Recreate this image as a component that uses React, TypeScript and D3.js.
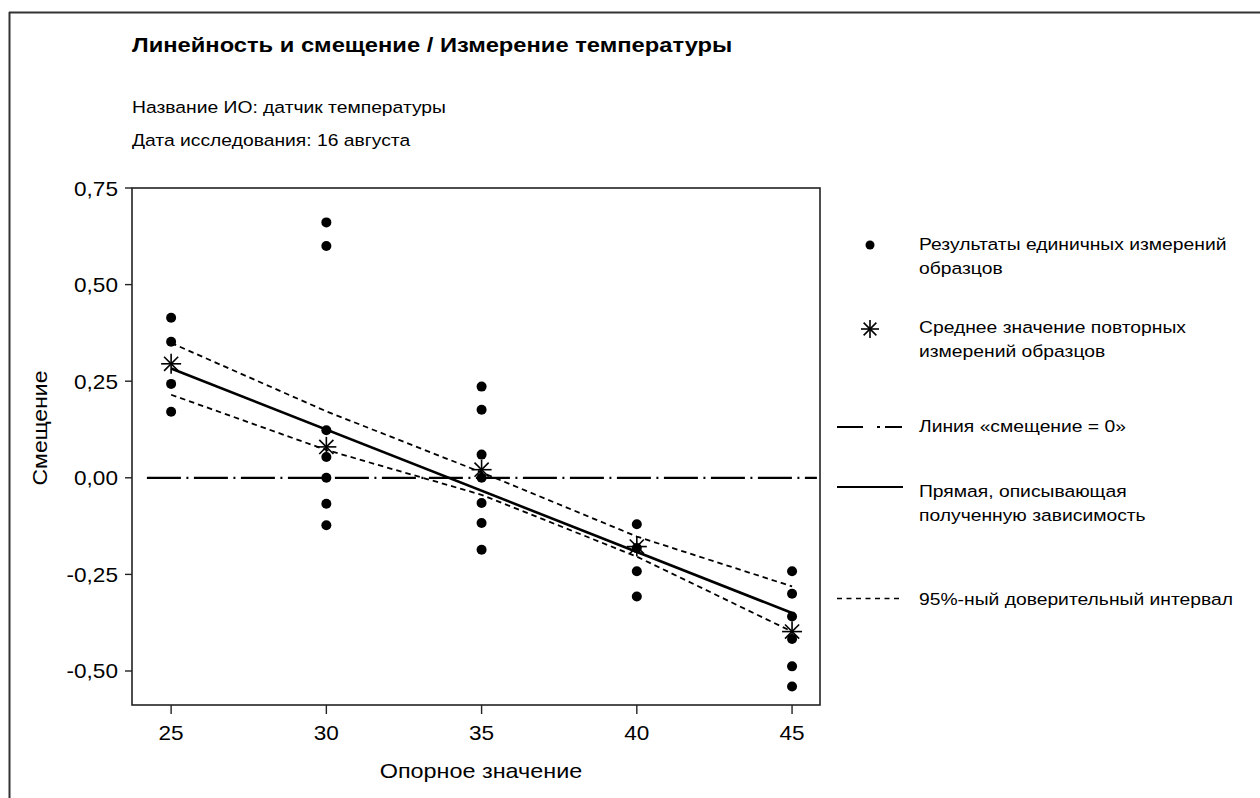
import React from "react";
import * as d3 from "d3";

const referenceValues = [25, 30, 35, 40, 45];
const singles25 = [0.414, 0.352, 0.243, 0.171];
const singles30 = [0.661, 0.6, 0.123, 0.054, 0.0, -0.067, -0.123];
const singles35 = [0.236, 0.176, 0.06, 0.0, -0.065, -0.117, -0.186];
const singles40 = [-0.12, -0.182, -0.242, -0.307];
const singles45 = [-0.242, -0.3, -0.359, -0.417, -0.488, -0.54];
const singleGroups = [singles25, singles30, singles35, singles40, singles45];
const means = [0.295, 0.08, 0.021, -0.178, -0.398];
const fitX = [25, 45];
const fitY = [0.283, -0.35];
const ciUpper = [0.349, 0.172, 0.014, -0.152, -0.281];
const ciLower = [0.215, 0.072, -0.044, -0.204, -0.398];
const zeroLineX = [24.22, 45.8];
const yTicks = [0.75, 0.5, 0.25, 0, -0.25, -0.5];
const xTicks = [25, 30, 35, 40, 45];

const title = "Линейность и смещение / Измерение температуры";
const subtitle1 = "Название ИО: датчик температуры";
const subtitle2 = "Дата исследования: 16 августа";
const xLabel = "Опорное значение";
const yLabel = "Смещение";
const legendItems = [
  ["Результаты единичных измерений", "образцов"],
  ["Среднее значение повторных", "измерений образцов"],
  ["Линия «смещение = 0»"],
  ["Прямая, описывающая", "полученную зависимость"],
  ["95%-ный доверительный интервал"],
];

const FONT = "'Liberation Sans', Arial, sans-serif";

function T({ x, y, size, sx = 1.17, anchor = "start", weight = "normal", rotate = 0, children }: any) {
  return (
    <text
      transform={`translate(${x},${y}) rotate(${rotate}) scale(${sx},1)`}
      fontSize={size}
      fontWeight={weight}
      textAnchor={anchor}
      fill="#000"
    >
      {children}
    </text>
  );
}

function Star({ cx, cy, r, w = 1.6 }: { cx: number; cy: number; r: number; w?: number }) {
  const arms = [0, 45, 90, 135].map((a) => {
    const rad = (a * Math.PI) / 180;
    const dx = Math.cos(rad) * r;
    const dy = Math.sin(rad) * r;
    return <line key={a} x1={cx - dx} y1={cy - dy} x2={cx + dx} y2={cy + dy} stroke="#000" strokeWidth={w} />;
  });
  return <g>{arms}</g>;
}

export default function App() {
  const left = 132, right = 820, top = 188, bottom = 705;
  const x = d3.scaleLinear().domain([23.74, 45.9]).range([left, right]);
  const y = d3.scaleLinear().domain([-0.588, 0.75]).range([bottom, top]);
  const line = d3.line<[number, number]>().x((d) => x(d[0])).y((d) => y(d[1]));
  const fitPts: [number, number][] = fitX.map((v, i) => [v, fitY[i]]);
  const upPts: [number, number][] = referenceValues.map((v, i) => [v, ciUpper[i]]);
  const loPts: [number, number][] = referenceValues.map((v, i) => [v, ciLower[i]]);
  const zeroPts: [number, number][] = zeroLineX.map((v) => [v, 0]);

  const legX = 919;
  const legendY = [250, 333, 432, 497, 605];
  const lineGap = 23.5;

  return (
    <svg width={1260} height={798} style={{ position: "fixed", left: 0, top: 0, background: "#fff" }} fontFamily={FONT}>
      <rect x={0} y={0} width={1260} height={798} fill="#fff" />
      <line x1={9} y1={12.5} x2={1260} y2={12.5} stroke="#333" strokeWidth={2} />
      <line x1={9.5} y1={12} x2={9.5} y2={798} stroke="#333" strokeWidth={2} />

      <T x={132} y={52} size={21} sx={1.13} weight="bold">{title}</T>
      <T x={132} y={113} size={16.5}>{subtitle1}</T>
      <T x={132} y={146} size={16.5}>{subtitle2}</T>

      <rect x={left} y={top} width={right - left} height={bottom - top} fill="none" stroke="#222" strokeWidth={1.6} />
      {yTicks.map((t) => (
        <g key={t}>
          <line x1={left - 7} x2={left} y1={y(t)} y2={y(t)} stroke="#222" strokeWidth={1.4} />
          <T x={left - 14} y={y(t) + 7.5} size={20} sx={1.13} anchor="end">
            {d3.format(".2f")(t).replace(".", ",").replace("−", "-")}
          </T>
        </g>
      ))}
      {xTicks.map((t) => (
        <g key={t}>
          <line x1={x(t)} x2={x(t)} y1={bottom} y2={bottom + 9} stroke="#222" strokeWidth={1.4} />
          <T x={x(t)} y={bottom + 35} size={20} sx={1.13} anchor="middle">{t}</T>
        </g>
      ))}
      <T x={481} y={778} size={20} anchor="middle">{xLabel}</T>
      <T x={47} y={428} size={20} sx={1.15} rotate={-90} anchor="middle">{yLabel}</T>

      <path d={line(zeroPts) || ""} fill="none" stroke="#000" strokeWidth={2.3} strokeDasharray="34 5.5 2 5.5" />
      <path d={line(upPts) || ""} fill="none" stroke="#000" strokeWidth={1.8} strokeDasharray="5.5 4" />
      <path d={line(loPts) || ""} fill="none" stroke="#000" strokeWidth={1.8} strokeDasharray="5.5 4" />
      <path d={line(fitPts) || ""} fill="none" stroke="#000" strokeWidth={2.6} />

      {singleGroups.map((g, i) =>
        g.map((v, j) => <circle key={`${i}-${j}`} cx={x(referenceValues[i])} cy={y(v)} r={5} fill="#000" />)
      )}
      {means.map((m, i) => (
        <Star key={i} cx={x(referenceValues[i])} cy={y(m)} r={10} />
      ))}

      <circle cx={870} cy={245} r={4.5} fill="#000" />
      <Star cx={870} cy={329} r={9} />
      <line x1={837} x2={902} y1={427} y2={427} stroke="#000" strokeWidth={2} strokeDasharray="26 14 3 5 30" />
      <line x1={837} x2={903} y1={487} y2={487} stroke="#000" strokeWidth={2.2} />
      <line x1={837} x2={900} y1={598.5} y2={598.5} stroke="#000" strokeWidth={1.5} strokeDasharray="5 4.5" />
      {legendItems.map((lines, i) =>
        lines.map((l, k) => (
          <T key={`${i}-${k}`} x={legX} y={legendY[i] + k * lineGap} size={16.5}>{l}</T>
        ))
      )}
    </svg>
  );
}
